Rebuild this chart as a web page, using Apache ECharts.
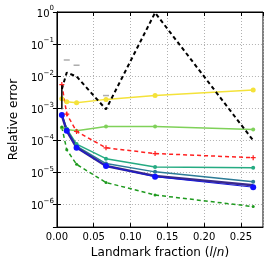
<!DOCTYPE html>
<html><head><meta charset="utf-8">
<script src="https://cdn.jsdelivr.net/npm/echarts@6/dist/echarts.min.js"></script>
<style>html,body{margin:0;padding:0;background:#fff}#c{width:267px;height:264px}</style>
</head><body><div id="c"></div>
<script>
const fractions = [1/150, 2/150, 4/150, 10/150, 20/150, 40/150];
const xTicks = [0.00, 0.05, 0.10, 0.15, 0.20, 0.25];
const yTickExps = [0, -1, -2, -3, -4, -5, -6];
const blackDashed = [4.0e-3, 1.3e-2, 9.8e-3, 9.3e-4, 0.95, 1.0e-4];
const grayCapsX = [2/150, 4/150, 10/150];
const grayCapsY = [3.2e-2, 2.2e-2, 2.5e-3];
const blackErrX = [1/150, 1/150];
const blackErrY = [5.2e-3, 9.3e-4];
const redDashed = [5.5e-3, 6.6e-4, 1.9e-4, 5.9e-5, 3.9e-5, 2.9e-5];
const yellow = [2.0e-3, 1.6e-3, 1.5e-3, 1.9e-3, 2.5e-3, 3.7e-3];
const lightGreen = [2.5e-4, 2.2e-4, 2.0e-4, 2.7e-4, 2.7e-4, 2.2e-4];
const darkGreenDashed = [2.6e-4, 5.1e-5, 1.8e-5, 4.9e-6, 2.0e-6, 8.7e-7];
const teal = [6.2e-4, 2.3e-4, 7.7e-5, 2.7e-5, 1.5e-5, 1.4e-5];
const steel = [6.2e-4, 2.1e-4, 6.6e-5, 1.9e-5, 1.05e-5, 5.2e-6];
const indigo = [6.0e-4, 2.0e-4, 6.0e-5, 1.6e-5, 7.8e-6, 4.0e-6];
const blue = [6.2e-4, 2.0e-4, 5.9e-5, 1.6e-5, 7.4e-6, 3.5e-6];

const pairs = (xs, ys) => xs.map((x, i) => [x, ys[i]]);
const plusPath = 'path://M3,0h2v3h3v2h-3v3h-2v-3h-3v-2h3z';
function lineSeries(data, color, opts) {
  return Object.assign({
    type: 'line', data: pairs(fractions, data), symbol: 'circle', symbolSize: 5,
    itemStyle: {color: color}, lineStyle: {color: color, width: 1.5},
    showSymbol: true, animation: false, z: 3
  }, opts || {});
}
const chart = echarts.init(document.getElementById('c'), null, {renderer: 'canvas'});
const font = 'DejaVu Sans';
const yFmt = v => {
  const l = Math.log10(v); const e = Math.round(l);
  if (Math.abs(l - e) > 1e-6 || !yTickExps.includes(e)) return '';
  return '{b|10}{s|' + (e < 0 ? '\u2212' + (-e) : e) + '}';
};
const xFmt = v => {
  for (const t of xTicks) if (Math.abs(v - t) < 1e-9) return t.toFixed(2);
  return '';
};
const gridLine = {show: true, lineStyle: {color: '#b0b0b0', type: [1, 2], width: 1}};
chart.setOption({
  backgroundColor: '#fff',
  grid: {left: 33, right: 4, top: 12, bottom: 29, show: true, borderColor: '#000', borderWidth: 1, backgroundColor: 'transparent'},
  xAxis: [{
    type: 'value', min: 0, max: 0.28, interval: 0.05,
    name: '{n|Landmark fraction (}{i|l}{n|/}{i|n}{n|)}', nameLocation: 'middle', nameGap: 17,
    nameTextStyle: {rich: {n: {fontFamily: font, fontSize: 12, color: '#000'}, i: {fontFamily: font, fontSize: 12, fontStyle: 'italic', color: '#000'}}},
    axisLine: {show: true, lineStyle: {color: '#000'}},
    axisTick: {show: true, inside: true, length: 4, lineStyle: {color: '#000'}},
    axisLabel: {formatter: xFmt, fontFamily: font, fontSize: 10, color: '#000', margin: 5, showMaxLabel: false},
    splitLine: gridLine
  }, {
    type: 'value', position: 'top', min: 0, max: 0.28, interval: 0.05,
    axisLine: {show: true, lineStyle: {color: '#000'}},
    axisTick: {show: true, inside: true, length: 4, lineStyle: {color: '#000'}},
    axisLabel: {show: false}, splitLine: {show: false}
  }],
  yAxis: [{
    type: 'log', logBase: 10, min: 2e-7, max: 1,
    name: 'Relative error', nameLocation: 'middle', nameGap: 21, nameRotate: 90,
    nameTextStyle: {fontFamily: font, fontSize: 12, color: '#000'},
    axisLine: {show: true, lineStyle: {color: '#000'}},
    axisTick: {show: true, inside: true, length: 4, lineStyle: {color: '#000'}},
    axisLabel: {formatter: yFmt, margin: 3, fontFamily: font, color: '#000',
      rich: {b: {fontFamily: font, fontSize: 10, color: '#000', verticalAlign: 'bottom', lineHeight: 14},
             s: {fontFamily: font, fontSize: 7, color: '#000', verticalAlign: 'top', lineHeight: 14}}},
    splitLine: gridLine
  }, {
    type: 'log', logBase: 10, min: 2e-7, max: 1, position: 'right',
    axisLine: {show: true, lineStyle: {color: '#000'}},
    axisTick: {show: true, inside: true, length: 4, lineStyle: {color: '#000'}},
    axisLabel: {show: false}, splitLine: {show: false}
  }],
  series: [
    lineSeries(yellow, '#f4e23a', {lineStyle: {color: '#f4e23a', width: 1.5}}),
    lineSeries(lightGreen, '#7fd159', {symbolSize: 4}),
    lineSeries(teal, '#25ab82', {symbolSize: 4}),
    lineSeries(steel, '#2c7b96', {symbolSize: 4}),
    lineSeries(indigo, '#3a2a8c', {symbol: 'none', lineStyle: {color: '#3a2a8c', width: 2.5}}),
    lineSeries(blue, '#1010ff', {symbolSize: 6, lineStyle: {color: '#1818d8', width: 1}}),
    lineSeries(darkGreenDashed, '#1e9a1e', {symbolSize: 3, lineStyle: {color: '#1e9a1e', width: 1.5, type: [4, 3]}}),
    lineSeries(redDashed, '#ff2020', {symbol: plusPath, symbolSize: 5, lineStyle: {color: '#ff2020', width: 1.5, type: [4, 3]}}),
    lineSeries(blackDashed, '#000', {symbol: 'none', lineStyle: {color: '#000', width: 2, type: [4, 3]}}),
    {type: 'line', data: pairs(blackErrX, blackErrY), symbol: 'none', lineStyle: {color: '#000', width: 1.5}, animation: false, z: 4},
    {type: 'scatter', data: pairs(grayCapsX, grayCapsY), symbol: 'rect', symbolSize: [6, 1.5], itemStyle: {color: '#999'}, animation: false, z: 4}
  ]
});
</script></body></html>
